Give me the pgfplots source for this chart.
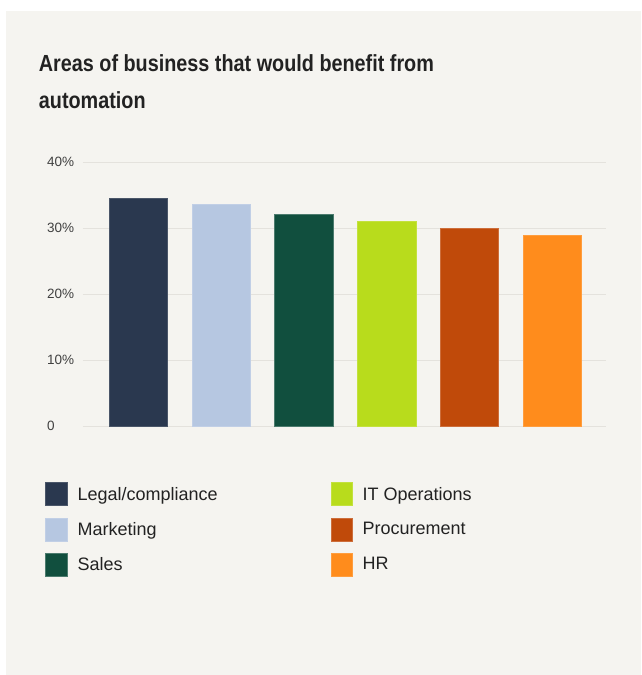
\documentclass[border=0pt]{standalone}
\usepackage{pgfplots}
\pgfplotsset{compat=1.18}
\usepackage{fontspec}
\setmainfont{Liberation Sans}
\newfontfamily\titlefont[FakeStretch=0.85]{Liberation Sans}
\definecolor{bgpanel}{HTML}{F5F4F0}
\definecolor{gridc}{HTML}{E4E2DD}
\definecolor{cLegal}{HTML}{2A384F}
\definecolor{cMkt}{HTML}{B6C7E1}
\definecolor{cSales}{HTML}{114F3E}
\definecolor{cIT}{HTML}{B8DC1C}
\definecolor{cProc}{HTML}{C04A0A}
\definecolor{cHR}{HTML}{FF8C1C}
\definecolor{txt}{HTML}{222222}
\begin{document}
\begin{tikzpicture}[x=1pt,y=1pt]
\fill[white] (0,0) rectangle (641,675);
\fill[bgpanel] (6,0) rectangle (641,664);
\node[anchor=base west, inner sep=0pt, text=txt] at (38.7,603.3) {\titlefont\fontsize{23.3}{28}\selectfont\bfseries Areas of business that would benefit from};
\node[anchor=base west, inner sep=0pt, text=txt] at (38.7,566.7) {\titlefont\fontsize{23.3}{28}\selectfont\bfseries automation};
\begin{axis}[
  at={(82.7pt,248.7pt)}, anchor=south west,
  scale only axis, width=523.3pt, height=264pt,
  xmin=-0.67, xmax=5.65, ymin=0, ymax=40,
  axis line style={draw=none},
  tick style={draw=none},
  ymajorgrids, grid style={gridc, line width=0.8pt},
  ytick={0,10,20,30,40}, yticklabels={0,10\%,20\%,30\%,40\%},
  xtick=\empty,
  major tick length=0pt,
  yticklabel style={anchor=west, inner sep=0pt, xshift=-35.7pt, font=\fontsize{13.5}{16}\selectfont, text=black!75},
  ybar, bar width=58.5pt, bar shift=0pt,
  clip=false,
  legend columns=3, transpose legend,
  legend style={at={(rel axis cs:-0.0726,-0.212)}, anchor=north west, draw=none, fill=none, inner sep=0pt, row sep=11.5pt,
    font=\fontsize{18}{21}\selectfont, text=txt,
    nodes={inner sep=0pt, anchor=west}},
  legend image code/.code={\draw[#1, line width=0.6pt] (0pt,-11.5pt) rectangle (21.6pt,11.5pt);},
]
\addplot[fill=cLegal, draw=cLegal!85!white] coordinates {(0,34.6)};
\addlegendentry{\hspace{10.4pt}\makebox[253pt][l]{Legal/compliance}}
\addplot[fill=cMkt, draw=cMkt!85!white] coordinates {(1,33.7)};
\addlegendentry{\hspace{10.4pt}\makebox[253pt][l]{Marketing}}
\addplot[fill=cSales, draw=cSales!75!white] coordinates {(2,32.1)};
\addlegendentry{\hspace{10.4pt}\makebox[253pt][l]{Sales}}
\addplot[fill=cIT, draw=cIT!85!white] coordinates {(3,31.05)};
\addlegendentry{\hspace{10pt}IT Operations}
\addplot[fill=cProc, draw=cProc!80!white] coordinates {(4,30.0)};
\addlegendentry{\hspace{10pt}Procurement}
\addplot[fill=cHR, draw=cHR!85!white] coordinates {(5,29.0)};
\addlegendentry{\hspace{10pt}HR}
\end{axis}
\end{tikzpicture}
\end{document}
